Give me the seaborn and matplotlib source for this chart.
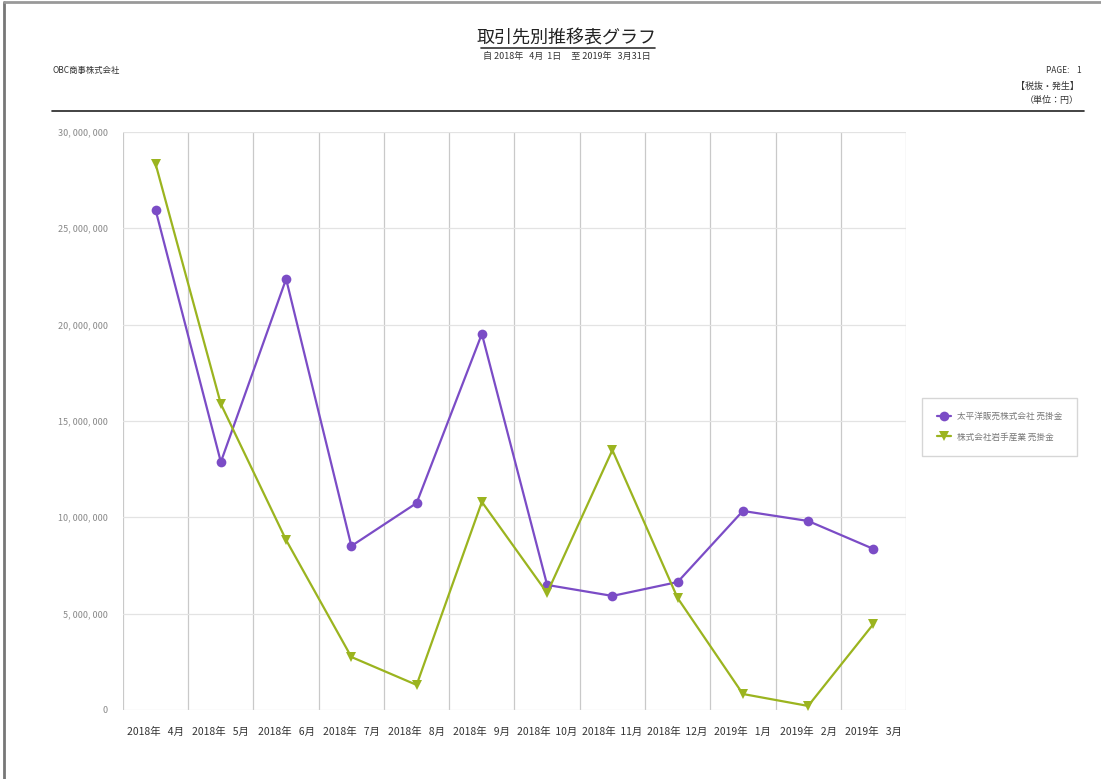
import numpy as np
import pandas as pd
import matplotlib
matplotlib.use('Agg')
import matplotlib.pyplot as plt
import seaborn as sns
from matplotlib.lines import Line2D

# data
months = ['2018年   4月', '2018年   5月', '2018年   6月', '2018年   7月', '2018年   8月', '2018年   9月',
          '2018年  10月', '2018年  11月', '2018年  12月', '2019年   1月', '2019年   2月', '2019年   3月']
taiheiyo = [25950000, 12870000, 22370000, 8510000, 10740000, 19520000,
            6490000, 5920000, 6640000, 10330000, 9810000, 8360000]
iwate = [28340000, 15880000, 8820000, 2750000, 1300000, 10800000,
         6070000, 13490000, 5810000, 830000, 210000, 4460000]
series_names = ['太平洋販売株式会社 売掛金', '株式会社岩手産業 売掛金']
colors = ['#7b4cc6', '#9bb41f']
markers = ['o', 'v']

df = pd.DataFrame({'month': months * 2,
                   'amount': taiheiyo + iwate,
                   'series': [series_names[0]] * 12 + [series_names[1]] * 12})

sns.set_style('white')
plt.rcParams['font.family'] = ['Noto Sans CJK JP', 'DejaVu Sans']

fig = plt.figure(figsize=(11.01, 7.79), dpi=100)
ax = fig.add_axes([0.1117, 0.0886, 0.7112, 0.7420])

sns.lineplot(data=df, x='month', y='amount', hue='series', style='series',
             palette=colors, markers=markers, dashes=False, markersize=7,
             markeredgewidth=0, linewidth=1.6, sort=False, ax=ax)

ax.set_xlim(-0.5, 11.5)
ax.set_ylim(0, 30000000)
ax.set_yticks(np.arange(0, 30000001, 5000000))
ax.set_yticklabels([f'{v:,}'.replace(',', ', ') for v in range(0, 30000001, 5000000)],
                   fontsize=6.5, color='#888888')
ax.set_xticks(range(12))
ax.set_xticklabels(months, fontsize=7.5, color='#333333')
ax.set_xticks(np.arange(-0.5, 12, 1), minor=True)
ax.tick_params(axis='x', which='major', length=0, pad=12)
ax.tick_params(axis='x', which='minor', length=6, color='#cccccc')
ax.tick_params(axis='y', length=5, color='#cccccc', pad=6)
ax.grid(True, axis='y', color='#e3e3e3', linewidth=0.9)
ax.grid(True, axis='x', which='minor', color='#c9c9c9', linewidth=0.9)
for s in ax.spines.values():
    s.set_visible(False)
ax.set_xlabel('')
ax.set_ylabel('')

# legend box on the right
ax.legend(loc='center left', bbox_to_anchor=(1.015, 0.49), fontsize=6.2, frameon=True,
          edgecolor='#cccccc', fancybox=False, labelcolor='#777777',
          borderpad=1.7, handlelength=1.7, handletextpad=0.6, labelspacing=1.3)

# page header
fig.text(0.515, 0.950, '取引先別推移表グラフ', ha='center', va='center', fontsize=13, color='#222222')
fig.add_artist(Line2D([0.437, 0.595], [0.939, 0.939], color='#333333', linewidth=1.2))
fig.text(0.515, 0.928, '自 2018年   4月  1日     至 2019年   3月31日', ha='center', va='center',
         fontsize=6.5, color='#333333')
fig.text(0.048, 0.909, 'OBC商事株式会社', ha='left', va='center', fontsize=6, color='#333333')
fig.text(0.982, 0.909, 'PAGE:    1', ha='right', va='center', fontsize=6, color='#333333')
fig.text(0.980, 0.889, '【税抜・発生】', ha='right', va='center', fontsize=6.5, color='#333333')
fig.text(0.980, 0.871, '（単位：円）', ha='right', va='center', fontsize=6.5, color='#333333')
fig.add_artist(Line2D([0.047, 0.985], [0.857, 0.857], color='#222222', linewidth=1.2))

# grey page border (left and top)
fig.add_artist(Line2D([0.004, 0.004], [0, 0.997], color='#777777', linewidth=2))
fig.add_artist(Line2D([0.004, 1.0], [0.997, 0.997], color='#999999', linewidth=2))

fig.savefig('out.png', dpi=100)
